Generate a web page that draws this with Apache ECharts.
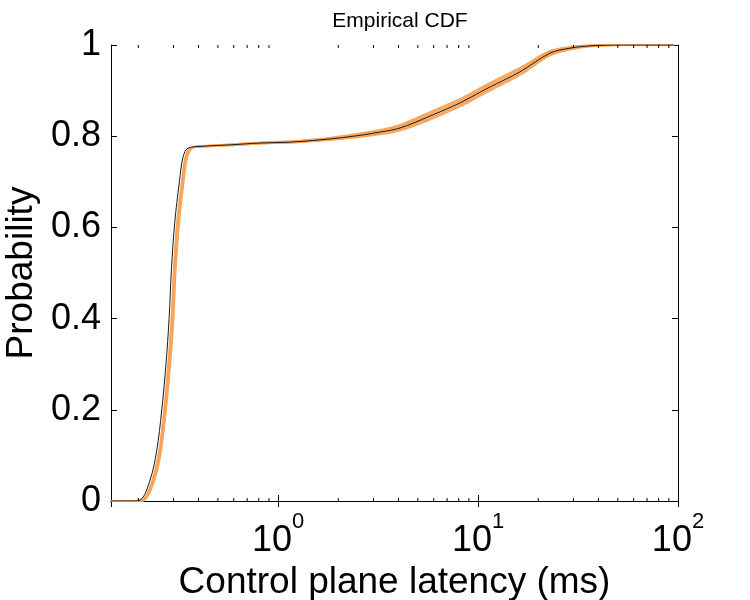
<!DOCTYPE html>
<html>
<head>
<meta charset="utf-8">
<title>Empirical CDF</title>
<script src="https://cdn.jsdelivr.net/npm/echarts@6/dist/echarts.min.js"></script>
<style>
  html, body { margin: 0; padding: 0; background: #fff; }
  #chart { width: 750px; height: 600px; }
</style>
</head>
<body>
<div id="chart"></div>
<script>
// lower (steep) part: shared probability levels, x per curve (ms)
var lowProb = [0, 0, 0.002, 0.046, 0.11, 0.2, 0.3, 0.4, 0.51, 0.61, 0.7, 0.755, 0.774];
var blackLowX = [0.146, 0.185, 0.204, 0.229, 0.247, 0.262, 0.275, 0.285, 0.293, 0.304, 0.321, 0.335, 0.355];
var orangeLowX = [
  [0.146, 0.190, 0.210, 0.235, 0.254, 0.269, 0.282, 0.293, 0.301, 0.312, 0.330, 0.344, 0.365],
  [0.146, 0.191, 0.211, 0.237, 0.255, 0.271, 0.284, 0.294, 0.303, 0.314, 0.332, 0.346, 0.367],
  [0.146, 0.192, 0.212, 0.238, 0.257, 0.272, 0.286, 0.296, 0.304, 0.316, 0.334, 0.348, 0.369],
  [0.146, 0.193, 0.213, 0.239, 0.258, 0.274, 0.287, 0.298, 0.306, 0.318, 0.335, 0.350, 0.371],
  [0.146, 0.194, 0.214, 0.241, 0.260, 0.275, 0.289, 0.300, 0.308, 0.320, 0.337, 0.352, 0.373]
];

// upper (plateau + tail) part: shared x (ms), probability per curve
var highX = [0.42, 0.575, 0.813, 1.148, 1.62, 2.29, 3.24, 4.07, 5.75, 8.13, 10, 11.5, 16.2, 22.9, 28.8, 36.3, 51.3, 95];
var blackHighP = [0.778, 0.781, 0.785, 0.787, 0.792, 0.799, 0.809, 0.818, 0.844, 0.873, 0.894, 0.908, 0.941, 0.982, 0.993, 0.998, 1.0, 1.0];
var orangeHighP = [
  [0.777, 0.780, 0.784, 0.786, 0.790, 0.796, 0.804, 0.812, 0.836, 0.865, 0.886, 0.900, 0.934, 0.977, 0.990, 0.997, 1.0, 1.0],
  [0.777, 0.780, 0.784, 0.786, 0.791, 0.797, 0.806, 0.815, 0.840, 0.869, 0.890, 0.904, 0.937, 0.979, 0.991, 0.997, 1.0, 1.0],
  [0.778, 0.781, 0.785, 0.787, 0.792, 0.800, 0.810, 0.819, 0.845, 0.874, 0.895, 0.909, 0.942, 0.983, 0.993, 0.998, 1.0, 1.0],
  [0.778, 0.782, 0.786, 0.788, 0.793, 0.801, 0.812, 0.822, 0.849, 0.878, 0.899, 0.913, 0.946, 0.985, 0.995, 0.999, 1.0, 1.0],
  [0.779, 0.782, 0.786, 0.789, 0.794, 0.803, 0.814, 0.825, 0.853, 0.882, 0.903, 0.917, 0.950, 0.987, 0.996, 0.999, 1.0, 1.0]
];

var yTicks = [0, 0.2, 0.4, 0.6, 0.8, 1];
var minorTicks = [0.2, 0.3, 0.4, 0.5, 0.6, 0.7, 0.8, 0.9, 2, 3, 4, 5, 6, 7, 8, 9, 20, 30, 40, 50, 60, 70, 80, 90];

var font = "'Liberation Sans', Arial, Helvetica, sans-serif";

function curve(lowX, highP) {
  var pts = [];
  for (var i = 0; i < lowX.length; i++) pts.push([lowX[i], lowProb[i]]);
  for (var j = 0; j < highX.length; j++) pts.push([highX[j], highP[j]]);
  return pts;
}

var series = [];
for (var k = 0; k < orangeLowX.length; k++) {
  series.push({
    type: 'line',
    data: curve(orangeLowX[k], orangeHighP[k]),
    showSymbol: false,
    smooth: 0.35,
    lineStyle: { color: '#f7a55c', width: 1.8 },
    z: 2
  });
}
series.push({
  type: 'line',
  data: curve(blackLowX, blackHighP),
  showSymbol: false,
  smooth: 0.35,
  lineStyle: { color: '#1a1a1a', width: 1 },
  z: 3
});
// minor log ticks, top and bottom
series.push({
  type: 'custom',
  data: minorTicks,
  z: 4,
  silent: true,
  renderItem: function (params, api) {
    var v = api.value(0);
    var b = api.coord([v, 0]);
    var t = api.coord([v, 1]);
    var st = { stroke: '#000', lineWidth: 1 };
    return {
      type: 'group',
      children: [
        { type: 'line', shape: { x1: b[0], y1: b[1], x2: b[0], y2: b[1] - 3 }, style: st },
        { type: 'line', shape: { x1: t[0], y1: t[1], x2: t[0], y2: t[1] + 3 }, style: st }
      ]
    };
  }
});

var chart = echarts.init(document.getElementById('chart'));
var axisLine = { show: true, lineStyle: { color: '#000', width: 1 } };
var option = {
  animation: false,
  backgroundColor: '#fff',
  title: {
    text: 'Empirical CDF',
    left: 395,
    top: 6,
    textAlign: 'center',
    textStyle: { fontFamily: font, fontSize: 21, fontWeight: 'normal', color: '#000' }
  },
  grid: { left: 111, right: 72, top: 45, bottom: 99, outerBoundsMode: 'none', containLabel: false },
  xAxis: [
    {
      type: 'log',
      logBase: 10,
      min: 0.146,
      max: 100,
      position: 'bottom',
      axisLine: axisLine,
      axisTick: { inside: true, length: 6, lineStyle: { color: '#000' } },
      splitLine: { show: false },
      axisLabel: {
        margin: 22,
        formatter: function (v) {
          var e = Math.round(Math.log10(v));
          if (Math.abs(Math.log10(v) - e) > 1e-6) return '';
          return '{b|10}{s|' + e + '}';
        },
        rich: {
          b: { fontFamily: font, fontSize: 36, color: '#000', verticalAlign: 'bottom', lineHeight: 36 },
          s: { fontFamily: font, fontSize: 22, color: '#000', verticalAlign: 'bottom', lineHeight: 22, padding: [0, 0, 26, 0] }
        }
      },
      name: 'Control plane latency (ms)',
      nameLocation: 'middle',
      nameGap: 60,
      nameTextStyle: { fontFamily: font, fontSize: 37, color: '#000' }
    },
    {
      type: 'log',
      logBase: 10,
      min: 0.146,
      max: 100,
      position: 'top',
      axisLine: axisLine,
      axisTick: { inside: true, length: 6, lineStyle: { color: '#000' } },
      axisLabel: { show: false },
      splitLine: { show: false }
    }
  ],
  yAxis: [
    {
      type: 'value',
      min: 0,
      max: 1,
      interval: 0.2,
      position: 'left',
      axisLine: axisLine,
      axisTick: { inside: true, length: 6, lineStyle: { color: '#000' } },
      splitLine: { show: false },
      axisLabel: {
        margin: 10,
        fontFamily: font,
        fontSize: 36,
        color: '#000',
        formatter: function (v) {
          for (var i = 0; i < yTicks.length; i++) {
            if (Math.abs(v - yTicks[i]) < 1e-9) return String(yTicks[i]);
          }
          return '';
        }
      },
      name: 'Probability',
      nameLocation: 'middle',
      nameGap: 62,
      nameTextStyle: { fontFamily: font, fontSize: 37, color: '#000' }
    },
    {
      type: 'value',
      min: 0,
      max: 1,
      interval: 0.2,
      position: 'right',
      axisLine: axisLine,
      axisTick: { inside: true, length: 6, lineStyle: { color: '#000' } },
      axisLabel: { show: false },
      splitLine: { show: false }
    }
  ],
  series: series
};
chart.setOption(option);
</script>
</body>
</html>
